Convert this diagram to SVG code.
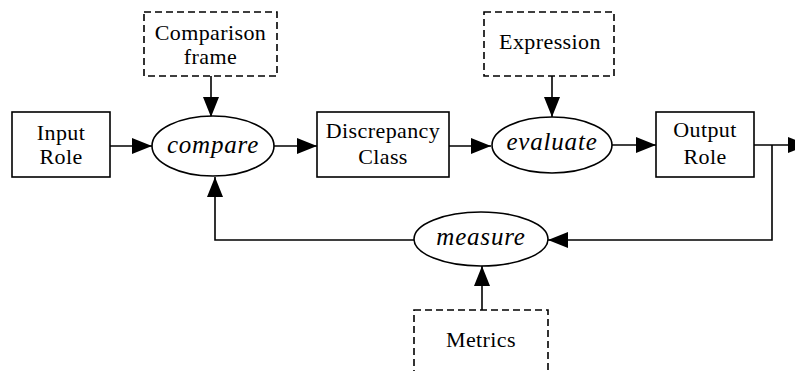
<svg xmlns="http://www.w3.org/2000/svg" width="795" height="371" viewBox="0 0 795 371">
  <style>
    .box { fill: #fff; stroke: #000; stroke-width: 1.6; }
    .dash { fill: #fff; stroke: #000; stroke-width: 1.6; stroke-dasharray: 7 4; }
    .proc { fill: #fff; stroke: #000; stroke-width: 1.6; }
    .edge { fill: none; stroke: #000; stroke-width: 1.6; marker-end: url(#arrow); }
    text { font-family: "Liberation Serif", "Times New Roman", serif; font-size: 22px; letter-spacing: 0.4px; fill: #000; text-anchor: middle; }
    .it { font-style: italic; font-size: 25px; letter-spacing: 0.8px; }
  </style>
  <defs>
    <marker id="arrow" markerUnits="userSpaceOnUse" markerWidth="20" markerHeight="16" viewBox="0 0 20 16" refX="20" refY="8" orient="auto">
      <path d="M0,0 L20,8 L0,16 Z" fill="#000"/>
    </marker>
  </defs>

  <rect width="795" height="371" fill="#fff"/>

  <!-- connectors -->
  <g id="connectors">
    <path class="edge" d="M110,146 L152,146"/>
    <path class="edge" d="M211,76 L211,117"/>
    <path class="edge" d="M274,146 L317,146"/>
    <path class="edge" d="M449,146 L491,146"/>
    <path class="edge" d="M552,76 L552,117"/>
    <path class="edge" d="M612,145 L656,145"/>
    <path class="edge" d="M754,145 L808,145"/>
    <path class="edge" d="M772,145 L772,240 L548,240"/>
    <path class="edge" d="M414,240 L215,240 L215,177"/>
    <path class="edge" d="M482,310 L482,266"/>
  </g>

  <!-- nodes -->
  <g id="input-role">
    <rect class="box" x="12" y="112" width="98" height="65"/>
    <text x="61" y="140">Input</text>
    <text x="61" y="164">Role</text>
  </g>
  <g id="comparison-frame">
    <rect class="dash" x="144" y="12" width="133" height="64"/>
    <text x="210.5" y="40">Comparison</text>
    <text x="210.5" y="64">frame</text>
  </g>
  <g id="compare">
    <ellipse class="proc" cx="213" cy="146" rx="61" ry="30"/>
    <text class="it" x="213" y="153">compare</text>
  </g>
  <g id="discrepancy-class">
    <rect class="box" x="317" y="112" width="132" height="65"/>
    <text x="383" y="138">Discrepancy</text>
    <text x="383" y="164">Class</text>
  </g>
  <g id="expression">
    <rect class="dash" x="484" y="12" width="130" height="64"/>
    <text x="550" y="49">Expression</text>
  </g>
  <g id="evaluate">
    <ellipse class="proc" cx="552" cy="145" rx="60" ry="28"/>
    <text class="it" x="552" y="150">evaluate</text>
  </g>
  <g id="output-role">
    <rect class="box" x="656" y="112" width="98" height="65"/>
    <text x="705" y="137">Output</text>
    <text x="705" y="164">Role</text>
  </g>
  <g id="measure">
    <ellipse class="proc" cx="481" cy="239" rx="67" ry="27"/>
    <text class="it" x="481" y="245">measure</text>
  </g>
  <g id="metrics">
    <rect class="dash" x="414" y="310" width="134" height="70"/>
    <text x="481" y="347">Metrics</text>
  </g>
</svg>
